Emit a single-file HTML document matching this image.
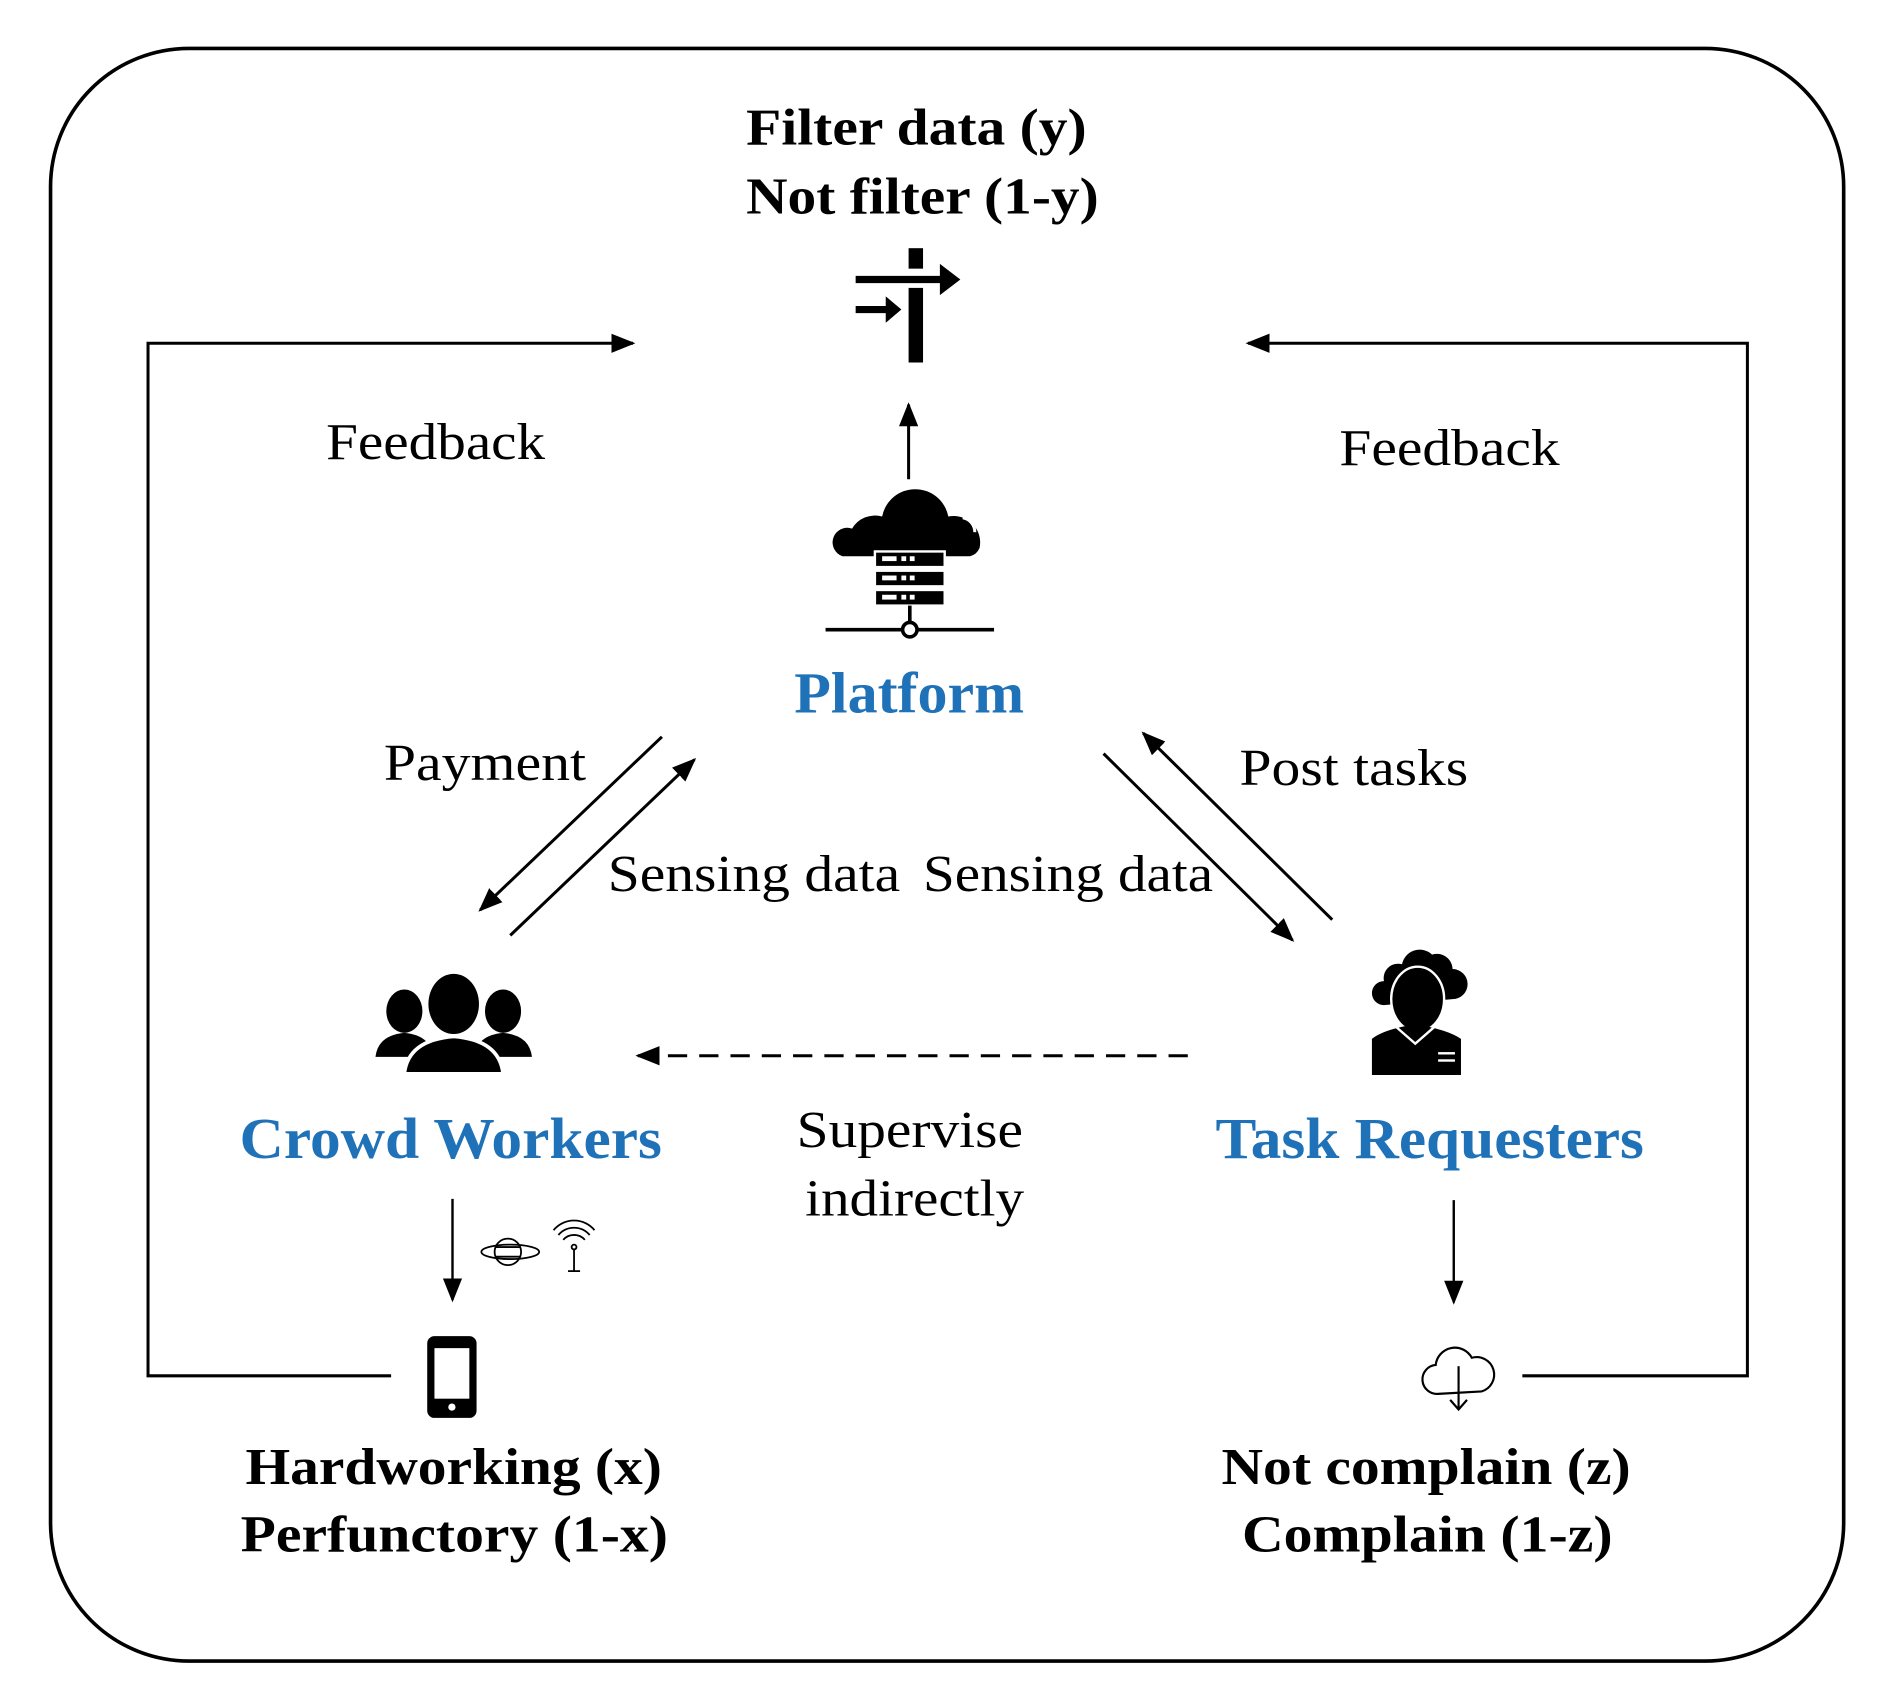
<!DOCTYPE html>
<html><head><meta charset="utf-8"><style>
html,body{margin:0;padding:0;background:#fff}
svg{display:block}
text{font-family:"Liberation Serif",serif}
.b{font-weight:bold}
.bl{fill:#1f72b8;font-weight:bold}
</style></head><body>
<svg width="1887" height="1695" viewBox="0 0 1568 1408" xmlns="http://www.w3.org/2000/svg">
<defs>
<marker id="m" viewBox="0 0 10 10" refX="9" refY="5" markerWidth="20" markerHeight="16" markerUnits="userSpaceOnUse" orient="auto" preserveAspectRatio="none"><path d="M0,0L10,5L0,10z" fill="#000"/></marker>
</defs>
<rect x="42" y="40" width="1490" height="1340" rx="115" fill="none" stroke="#000" stroke-width="3"/>

<text x="620" y="120" font-size="43" class="b" textLength="283" lengthAdjust="spacingAndGlyphs">Filter data (y)</text>
<text x="620" y="177" font-size="43" class="b" textLength="293" lengthAdjust="spacingAndGlyphs">Not filter (1-y)</text>

<rect x="755" y="206" width="12" height="17" fill="#000"/>
<rect x="755" y="239" width="12" height="62" fill="#000"/>
<path d="M711,229h70v-10l17,13-17,13v-10h-70z" fill="#000"/>
<path d="M711,254h25v-8l13,11-13,11v-8h-25z" fill="#000"/>

<line x1="755" y1="398" x2="755" y2="336" stroke="#000" stroke-width="2.5" marker-end="url(#m)"/>

<path d="M700,462 a12,12 0 0 1 8,-23 a22,22 0 0 1 25,-10 a28,28 0 0 1 55,0 a22,22 0 0 1 26,26 a12,12 0 0 1 -8,7 z" fill="#000"/>
<path d="M800,430 a12,12 0 0 1 10,12" stroke="#fff" stroke-width="2.5" fill="none"/>
<rect x="727" y="458" width="58" height="13" fill="#000" stroke="#fff" stroke-width="2"/>
<rect x="727" y="474" width="58" height="13" fill="#000" stroke="#fff" stroke-width="2"/>
<rect x="727" y="490" width="58" height="13" fill="#000" stroke="#fff" stroke-width="2"/>
<g fill="#fff"><rect x="733" y="462" width="12" height="4"/><rect x="749" y="462" width="4" height="4"/><rect x="756" y="462" width="4" height="4"/>
<rect x="733" y="478" width="12" height="4"/><rect x="749" y="478" width="4" height="4"/><rect x="756" y="478" width="4" height="4"/>
<rect x="733" y="494" width="12" height="4"/><rect x="749" y="494" width="4" height="4"/><rect x="756" y="494" width="4" height="4"/></g>
<line x1="756" y1="503" x2="756" y2="517" stroke="#000" stroke-width="3"/>
<line x1="686" y1="523" x2="826" y2="523" stroke="#000" stroke-width="3"/>
<circle cx="756" cy="523" r="6" fill="#fff" stroke="#000" stroke-width="3"/>

<text x="660" y="592" font-size="48" class="bl" textLength="191" lengthAdjust="spacingAndGlyphs">Platform</text>

<polyline points="325,1143 123,1143 123,285 526,285" fill="none" stroke="#000" stroke-width="2.5" marker-end="url(#m)"/>
<polyline points="1265,1143 1452,1143 1452,285 1037,285" fill="none" stroke="#000" stroke-width="2.5" marker-end="url(#m)"/>
<text x="271" y="381" font-size="43" textLength="182" lengthAdjust="spacingAndGlyphs">Feedback</text>
<text x="1113" y="386" font-size="43" textLength="183" lengthAdjust="spacingAndGlyphs">Feedback</text>

<text x="319" y="648" font-size="43" textLength="168" lengthAdjust="spacingAndGlyphs">Payment</text>
<line x1="550" y1="612" x2="399" y2="756" stroke="#000" stroke-width="2.5" marker-end="url(#m)"/>
<line x1="424" y1="777" x2="577" y2="631" stroke="#000" stroke-width="2.5" marker-end="url(#m)"/>
<text x="505" y="740" font-size="43" textLength="243" lengthAdjust="spacingAndGlyphs">Sensing data</text>
<text x="767" y="740" font-size="43" textLength="241" lengthAdjust="spacingAndGlyphs">Sensing data</text>
<text x="1030" y="652" font-size="43" textLength="190" lengthAdjust="spacingAndGlyphs">Post tasks</text>
<line x1="917" y1="626" x2="1074" y2="781" stroke="#000" stroke-width="2.5" marker-end="url(#m)"/>
<line x1="1107" y1="764" x2="950" y2="609" stroke="#000" stroke-width="2.5" marker-end="url(#m)"/>

<g fill="#000">
<ellipse cx="336" cy="840" rx="15" ry="18"/><path d="M312,878 q2,-18 24,-20 q22,2 24,20z"/>
<ellipse cx="418" cy="840" rx="15" ry="18"/><path d="M394,878 q2,-18 24,-20 q22,2 24,20z"/>
<ellipse cx="377" cy="834" rx="21" ry="25"/><path d="M336,892 q3,-28 41,-31 q38,3 41,31z" stroke="#fff" stroke-width="3"/>
</g>
<text x="199" y="962" font-size="48" class="bl" textLength="351" lengthAdjust="spacingAndGlyphs">Crowd Workers</text>

<line x1="987" y1="877" x2="530" y2="877" stroke="#000" stroke-width="2.5" stroke-dasharray="16,10" marker-end="url(#m)"/>
<text x="662" y="953" font-size="43" textLength="188" lengthAdjust="spacingAndGlyphs">Supervise</text>
<text x="669" y="1010" font-size="43" textLength="182" lengthAdjust="spacingAndGlyphs">indirectly</text>

<g fill="#000">
<path d="M1150,835 a10,10 0 0 1 0,-20 a12,12 0 0 1 15,-14 a15,15 0 0 1 25,-8 a13,13 0 0 1 17,12 a12,12 0 0 1 0,25 z"/>
<ellipse cx="1178" cy="830" rx="22" ry="27" stroke="#fff" stroke-width="2"/>
<path d="M1140,893 v-30 q10,-8 36,-12 q26,4 38,12 v30z"/>
<path d="M1160,853 l16,14 l16,-14" stroke="#fff" stroke-width="2" fill="none"/>
<rect x="1195" y="874" width="14" height="2" fill="#fff"/><rect x="1195" y="880" width="14" height="2" fill="#fff"/>
</g>
<text x="1010" y="962" font-size="48" class="bl" textLength="356" lengthAdjust="spacingAndGlyphs">Task Requesters</text>

<line x1="376" y1="996" x2="376" y2="1080" stroke="#000" stroke-width="2" marker-end="url(#m)"/>
<line x1="1208" y1="997" x2="1208" y2="1082" stroke="#000" stroke-width="2" marker-end="url(#m)"/>

<g fill="none" stroke="#000" stroke-width="1.5">
<circle cx="422" cy="1040" r="11"/><ellipse cx="424" cy="1040" rx="24" ry="6"/>
<line x1="412" y1="1036" x2="432" y2="1036"/><line x1="412" y1="1044" x2="432" y2="1044"/>
<path d="M468,1030 a12,12 0 0 1 18,0 M464,1026 a17,17 0 0 1 26,0 M460,1022 a22,22 0 0 1 34,0"/>
<circle cx="477" cy="1036" r="2"/><line x1="477" y1="1038" x2="477" y2="1056"/><line x1="472" y1="1056" x2="482" y2="1056"/>
</g>

<rect x="355" y="1110" width="41" height="68" rx="6" fill="#000"/>
<rect x="361" y="1120" width="29" height="42" fill="#fff"/>
<circle cx="375.5" cy="1169" r="3" fill="#fff"/>

<path d="M1195,1158 a12,12 0 0 1 -2,-24 a16,16 0 0 1 30,-6 a14,14 0 0 1 8,28 z" fill="none" stroke="#000" stroke-width="1.8"/>
<line x1="1212" y1="1135" x2="1212" y2="1170" stroke="#000" stroke-width="1.8"/>
<path d="M1205,1163 l7,8 l7,-8" fill="none" stroke="#000" stroke-width="1.8"/>

<text x="204" y="1233" font-size="43" class="b" textLength="346" lengthAdjust="spacingAndGlyphs">Hardworking (x)</text>
<text x="200" y="1289" font-size="43" class="b" textLength="355" lengthAdjust="spacingAndGlyphs">Perfunctory (1-x)</text>
<text x="1015" y="1233" font-size="43" class="b" textLength="340" lengthAdjust="spacingAndGlyphs">Not complain (z)</text>
<text x="1032" y="1289" font-size="43" class="b" textLength="308" lengthAdjust="spacingAndGlyphs">Complain (1-z)</text>
</svg>
</body></html>
